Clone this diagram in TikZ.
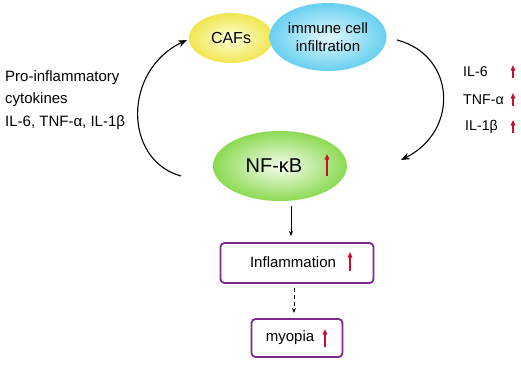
\documentclass[tikz,border=0pt]{standalone}
\usepackage{fontspec}
\setmainfont{Liberation Sans}
\usetikzlibrary{shapes.geometric,arrows.meta}
\definecolor{boxpurple}{HTML}{7B2A8C}
\definecolor{upred}{HTML}{C8102E}
\definecolor{yedge}{HTML}{F0E650}
\definecolor{ycent}{HTML}{FFFFD8}
\definecolor{cedge}{HTML}{68D0F0}
\definecolor{ccent}{HTML}{E2F8FD}
\definecolor{gedge}{HTML}{8CDA52}
\definecolor{gcent}{HTML}{F6FDF0}
\begin{document}
\begin{tikzpicture}[x=1pt,y=-1pt,
  blob/.style={ellipse, inner sep=0pt, align=center, font=\fontsize{15}{17.5}\selectfont},
  box/.style={draw=boxpurple, line width=1.8pt, rounded corners=4pt, inner sep=0pt},
  lbl/.style={font=\fontsize{15}{17}\selectfont, inner sep=0pt},
  rlbl/.style={font=\fontsize{14.2}{16}\selectfont, inner sep=0pt, anchor=west},
  cyc/.style={-{Stealth[length=9pt,width=7pt]}, line width=1.1pt},
  dn/.style={-{Stealth[length=5pt,width=4pt]}, line width=1pt},
  upar/.style={draw=upred, line width=1.3pt, -{Triangle[length=5.5pt,width=4.5pt]}}]
\useasboundingbox (0,0) rectangle (521,364);
% ellipses
\node[blob, minimum width=84pt, minimum height=50pt, shade, inner color=ycent, outer color=yedge, font=\fontsize{16}{17}\selectfont] (cafs) at (231,38) {CAFs};
\node[blob, minimum width=117pt, minimum height=68pt, shade, inner color=ccent, outer color=cedge] (imm) at (328,37) {immune cell\\infiltration};
\node[blob, minimum width=134pt, minimum height=70pt, shade, inner color=gcent, outer color=gedge, font=\fontsize{20}{22}\selectfont] (nfkb) at (280,166) {\hspace*{-12pt}NF-κB};
% boxes
\node[box, minimum width=153pt, minimum height=40pt] (infl) at (297,263) {};
\node[lbl] (infltxt) at (293,262) {Inflammation};
\node[box, minimum width=91pt, minimum height=38pt] (myo) at (297,338) {};
\node[lbl] (myotxt) at (290,338) {myopia};
% left text
\node[lbl, anchor=west, align=left, font=\fontsize{15}{22.5}\selectfont] (cyto) at (5,100) {Pro-inflammatory\\cytokines\\IL-6, TNF-α, IL-1β};
% right labels
\node[rlbl] (il6) at (463,72) {IL-6};
\node[rlbl] (tnf) at (463,100) {TNF-α};
\node[rlbl] (il1) at (465,127) {IL-1β};
% cycle arcs
\coordinate (ls) at (181,176);
\coordinate (le) at (187,40);
\coordinate (rs) at (397,40);
\coordinate (re) at (401,160);
\draw[cyc] (ls) .. controls (123,160) and (123,70) .. (le);
\draw[cyc] (rs) .. controls (455,55) and (460,130) .. (re);
% down arrows
\coordinate (d1) at (291,206);
\coordinate (d2) at (291,236);
\coordinate (d3) at (294,288);
\coordinate (d4) at (294,313);
\draw[dn] (d1) -- (d2);
\draw[dn, dash pattern=on 4pt off 3pt] (d3) -- (d4);
% red up arrows
\draw[upar] (327,176) -- (327,154);
\draw[upar] (350,271) -- (350,252);
\draw[upar] (325,347) -- (325,329);
\draw[upar] (513,78) -- (513,65);
\draw[upar] (513,106) -- (513,93);
\draw[upar] (513,133) -- (513,120);
\end{tikzpicture}
\end{document}
